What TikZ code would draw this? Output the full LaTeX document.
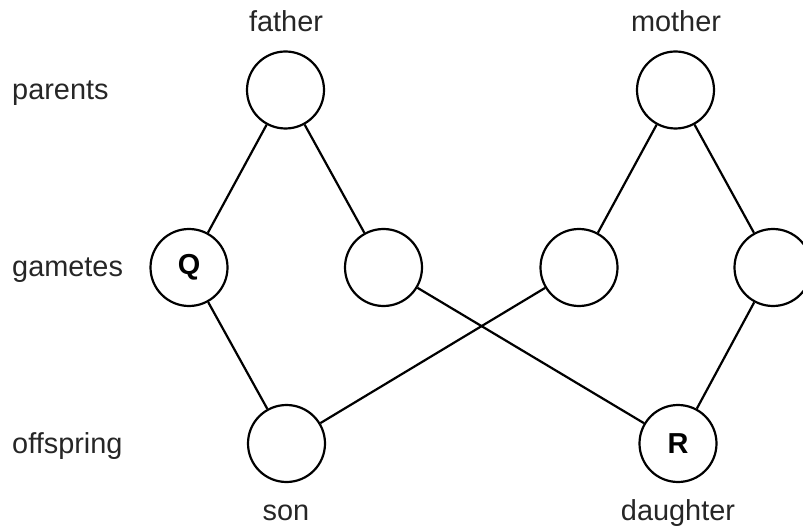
\documentclass[tikz,border=0pt]{standalone}
\usepackage{fontspec}
\setmainfont{Liberation Sans}
\begin{document}
\begin{tikzpicture}[x=1bp,y=-1bp,
  ball/.style={circle,draw,line width=2.2bp,minimum size=77bp,inner sep=0pt,font=\fontsize{29}{34}\selectfont\bfseries},
  lbl/.style={inner sep=0pt,font=\fontsize{29}{34}\selectfont,text=black!85},
  link/.style={line width=2.2bp}]
\useasboundingbox (0,0) rectangle (803,532);
\node[ball] (father) at (285.5,90) {};
\node[ball] (mother) at (675.5,90) {};
\node[ball] (q) at (189,267.5) {Q};
\node[ball] (g2) at (383.5,267.5) {};
\node[ball] (g3) at (579,267.5) {};
\node[ball] (g4) at (773,267.5) {};
\node[ball] (son) at (286.5,443.5) {};
\node[ball] (r) at (678,443.5) {R};
\node[lbl,anchor=base] (tf) at (286,32) {father};
\node[lbl,anchor=base] (tm) at (676,32) {mother};
\node[lbl,anchor=base] (ts) at (286,520) {son};
\node[lbl,anchor=base] (td) at (678,520) {daughter};
\node[lbl,anchor=base west] (tp) at (12,100) {parents};
\node[lbl,anchor=base west] (tg) at (12,277) {gametes};
\node[lbl,anchor=base west] (to) at (12,453) {offspring};
\draw[link] (father) -- (q);
\draw[link] (father) -- (g2);
\draw[link] (mother) -- (g3);
\draw[link] (mother) -- (g4);
\draw[link] (q) -- (son);
\draw[link] (g3) -- (son);
\draw[link] (g2) -- (r);
\draw[link] (g4) -- (r);
\end{tikzpicture}
\end{document}
